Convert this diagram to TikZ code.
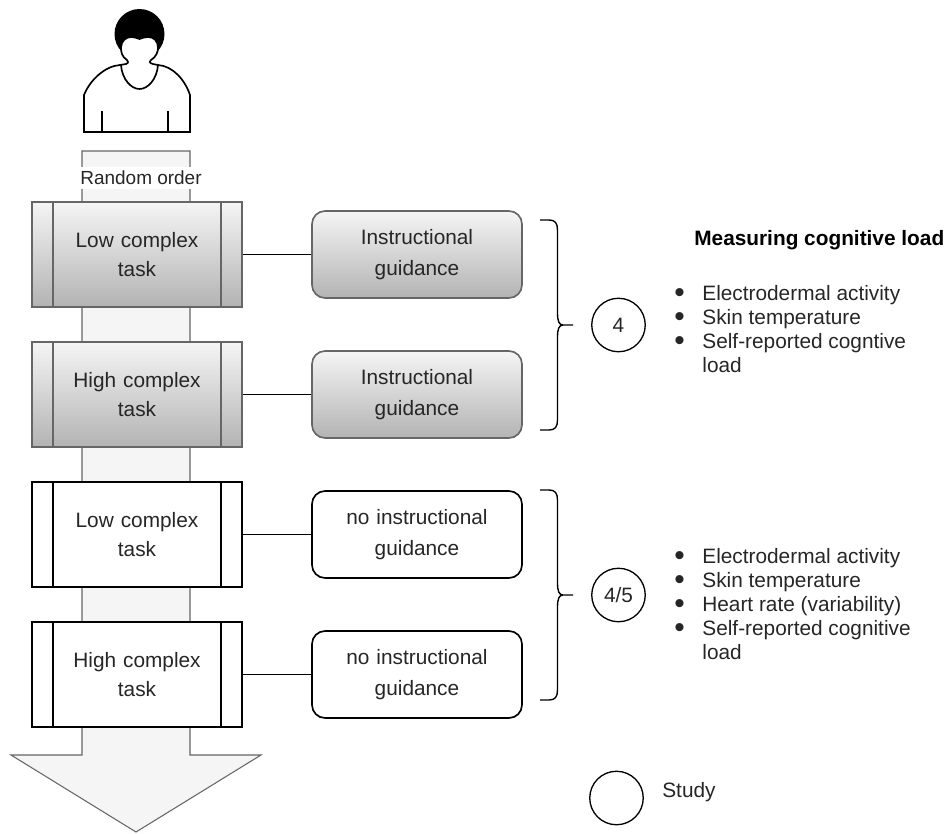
\documentclass[tikz,border=0pt]{standalone}
\usepackage{fontspec}
\setmainfont{Liberation Sans}
\definecolor{flowfill}{HTML}{F5F5F5}
\definecolor{flowline}{HTML}{666666}
\definecolor{shadeend}{HTML}{B3B3B3}
\definecolor{labeltext}{HTML}{262626}
\newcommand{\bodyfont}{\fontsize{11.85}{13.6}\selectfont}
\newcommand{\listdot}{\smash{\fontsize{17}{13.6}\selectfont\raisebox{-1.2pt}{\textbullet}}}
\newcommand{\guidebrace}[2]{%
  \draw[bracket] (540,#1) -- (549,#1) .. controls (555,#1) and (557.5,#1+3) .. (557.5,#1+10)
  -- (557.5,#2-12) .. controls (557.5,#2-4) and (559,#2) .. (563,#2) -- (b#2)
  (563,#2) .. controls (559,#2) and (557.5,#2+4) .. (557.5,#2+12)
  -- (557.5,#1+200) .. controls (557.5,#1+207) and (555,#1+210) .. (549,#1+210) -- (540,#1+210);}
\tikzset{
  taskbox/.style={draw=black, line width=0.95pt, fill=white, minimum width=4.2cm, minimum height=2.1cm,
    inner sep=0pt, text width=3.2cm, align=center, text=labeltext, font=\bodyfont,
    execute at begin node={\vspace*{2.8pt}},
    path picture={
      \draw[line width=0.95pt] ([xshift=0.42cm]path picture bounding box.north west) -- ([xshift=0.42cm]path picture bounding box.south west);
      \draw[line width=0.95pt] ([xshift=-0.42cm]path picture bounding box.north east) -- ([xshift=-0.42cm]path picture bounding box.south east);
    }},
  guidebox/.style={draw=black, line width=0.95pt, fill=white, rounded corners=0.26cm, minimum width=4.2cm,
    minimum height=1.74cm, inner sep=0pt, text width=3.8cm, align=center, text=labeltext, font=\bodyfont,
    execute at begin node={\vspace*{3.6pt}}},
  shaded/.style={draw=flowline, top color=flowfill, bottom color=shadeend},
  study/.style={draw=black, line width=0.75pt, circle, minimum size=1.07cm, inner sep=0pt, text=labeltext, font=\bodyfont},
  bracket/.style={draw=black, line width=0.8pt},
  link/.style={draw=black, line width=1pt},
  person/.style={draw=black, line width=0.95pt},
  plain/.style={inner sep=0pt, text=labeltext, font=\bodyfont, align=left, anchor=west},
}
\begin{document}
\begin{tikzpicture}[x=0.02cm,y=-0.02cm]
  \useasboundingbox (0,0) rectangle (951,833);

  % order arrow
  \draw[draw=flowline, fill=flowfill, line width=0.6pt]
    (82,151) -- (190,151) -- (190,755) -- (261,755) -- (136,832) -- (11,755) -- (82,755) -- cycle;
  \node (order) at (141,178) [fill=white, inner sep=0pt, minimum width=2.44cm, minimum height=0.44cm,
    text=labeltext, font=\fontsize{10.8}{13}\selectfont] {Random order};

  % person
  \fill[black] (139.5,34) circle (25);
  \draw[person, fill=white] (84,132) -- (84,95) .. controls (90,80) and (105,66) .. (120,65)
    -- (126,64) .. controls (129,63) and (128,61) .. (127,60)
    .. controls (122,57) and (121,52) .. (121,48) .. controls (121,41) and (126,37) .. (131,37)
    .. controls (134,37) and (137,38) .. (139.5,39) .. controls (142,38) and (145,37) .. (148,37)
    .. controls (154,37) and (158,41) .. (158,48) .. controls (158,52) and (156,57) .. (151,60)
    .. controls (149,61) and (149,63) .. (153,64)
    -- (158,65) .. controls (173,66) and (185,80) .. (190,95) -- (190,132) -- cycle;
  \draw[person] (121,65) .. controls (122,79) and (131,89) .. (139.5,89) .. controls (148,89) and (157,79) .. (158,65);
  \draw[person] (102,111) -- (102,132);
  \draw[person] (168,111) -- (168,132);

  % tasks and guidance
  \node (task1) at (137,254.5) [taskbox, shaded] {Low complex\\task};
  \node (guide1) at (417,254.5) [guidebox, shaded] {Instructional\\guidance};
  \node (task2) at (137,394.5) [taskbox, shaded] {High complex\\task};
  \node (guide2) at (417,394.5) [guidebox, shaded] {Instructional\\guidance};
  \node (task3) at (137,534.5) [taskbox] {Low complex\\task};
  \node (guide3) at (417,534.5) [guidebox] {no instructional\\guidance};
  \node (task4) at (137,674.5) [taskbox] {High complex\\task};
  \node (guide4) at (417,674.5) [guidebox] {no instructional\\guidance};
  \draw[link] (task1) -- (guide1);
  \draw[link] (task2) -- (guide2);
  \draw[link] (task3) -- (guide3);
  \draw[link] (task4) -- (guide4);

  % braces
  \coordinate (b325) at (573,325);
  \coordinate (b595) at (573,595);
  \guidebrace{220}{325}
  \guidebrace{490}{595}

  % studies
  \node (study1) at (618.5,325) [study] {4};
  \node (study2) at (618.5,595) [study] {4/5};
  \node (key) at (616.5,798) [study] {};
  \node (keytext) at (662,792) [plain] {Study};

  % measures
  \node (title) at (694,240) [plain, font=\bodyfont\bfseries, text=black] {Measuring cognitive load};
  \node (list1) at (674,331.5) [plain] {\begin{tabular}{@{}l@{\hspace{10pt}}l@{}}
    \listdot & Electrodermal activity\\
    \listdot & Skin temperature\\
    \listdot & Self-reported cogntive\\
    & load
  \end{tabular}};
  \node (list2) at (674,606.5) [plain] {\begin{tabular}{@{}l@{\hspace{10pt}}l@{}}
    \listdot & Electrodermal activity\\
    \listdot & Skin temperature\\
    \listdot & Heart rate (variability)\\
    \listdot & Self-reported cognitive\\
    & load
  \end{tabular}};
\end{tikzpicture}
\end{document}
